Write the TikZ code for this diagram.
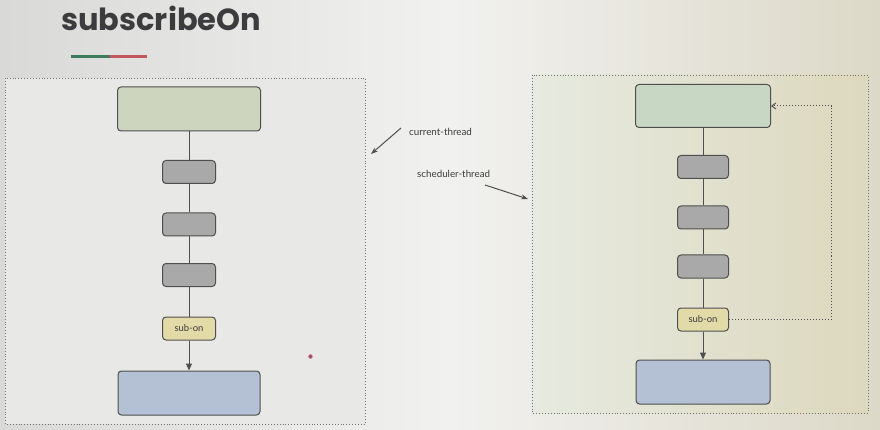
\documentclass[tikz,border=0pt]{standalone}
\usepackage{fontspec}
\setmainfont{Lato}
\newfontfamily\titlefont{Poppins}
\usetikzlibrary{arrows.meta}
\definecolor{bgL}{HTML}{D9D9D7}
\definecolor{bgM}{HTML}{F1F1F0}
\definecolor{bgR}{HTML}{DCD9C8}
\definecolor{edge}{HTML}{4F4F4F}
\definecolor{greenbox}{HTML}{CDD5BF}
\definecolor{greenboxR}{HTML}{C7D7C3}
\definecolor{graybox}{HTML}{A9A9A9}
\definecolor{yellowbox}{HTML}{E2DBA8}
\definecolor{bluebox}{HTML}{B4C0D4}
\definecolor{titlecol}{HTML}{3C3C3E}
\definecolor{barG}{HTML}{3E7A5C}
\definecolor{barR}{HTML}{C2575E}
\definecolor{panelL}{HTML}{E6EAE0}
\definecolor{panelR}{HTML}{DDD8BE}
\definecolor{dotcol}{HTML}{B0506E}
\tikzset{
  box/.style={draw=edge, line width=1pt, rounded corners=3.5pt, inner sep=0pt},
  bigbox/.style={box, minimum width=#1, minimum height=44pt},
  smallbox/.style={box, fill=graybox, minimum width=53pt, minimum height=23pt},
  subbox/.style={box, fill=yellowbox, minimum width=53pt, minimum height=23pt, font=\fontsize{9.5}{11}\selectfont, text=titlecol},
  link/.style={draw=edge, line width=1pt},
  frame/.style={draw=black!55, dotted, line width=0.9pt},
  lbl/.style={font=\fontsize{9.8}{11}\selectfont, text=titlecol, inner sep=0pt},
  pointer/.style={draw=edge, line width=1pt, -{Stealth[length=7pt,width=5pt]}}
}
\begin{document}
\begin{tikzpicture}[x=1pt,y=-1pt]
\useasboundingbox (0,0) rectangle (880,430);
% background
\shade[left color=bgL, right color=bgM] (0,0) rectangle (450,430);
\shade[left color=bgM, right color=bgR] (450,0) rectangle (880,430);
% title
\node[anchor=base west, inner sep=0pt, text=titlecol, font=\titlefont\bfseries\fontsize{30.5}{34}\selectfont] (title) at (61,31) {subscribeOn};
\fill[barG] (71,55.5) rectangle (110,58.5);
\fill[barR] (110,55.5) rectangle (147,58.5);
% left panel
\fill[bgL!60!white] (5,78) rectangle (365,424);
\draw[frame] (5,78) rectangle (365,424);
\node[bigbox=143pt, fill=greenbox] (L0) at (189,109) {};
\node[smallbox] (L1) at (189,172) {};
\node[smallbox] (L2) at (189,224.5) {};
\node[smallbox] (L3) at (189,275) {};
\node[subbox] (Ls) at (189,328.5) {sub-on};
\node[bigbox=142pt, fill=bluebox] (Le) at (189,393) {};
\draw[link] (L0) -- (L1);
\draw[link] (L1) -- (L2);
\draw[link] (L2) -- (L3);
\draw[link] (L3) -- (Ls);
\draw[link, -{Triangle[length=7pt,width=6pt]}] (Ls) -- (Le);
\fill[dotcol] (310.5,356.5) circle (2.2pt);
% middle labels
\node[lbl, anchor=west] (cur) at (409,132) {current-thread};
\node[lbl, anchor=west] (sch) at (417,173.5) {scheduler-thread};
\coordinate (curS) at (401,128);
\coordinate (curE) at (371,154);
\coordinate (schS) at (485,185);
\coordinate (schE) at (528,199);
\draw[pointer] (curS) -- (curE);
\draw[pointer] (schS) -- (schE);
% right panel
\shade[left color=panelL, right color=panelR] (532,75) rectangle (868,413);
\draw[frame] (532,75) rectangle (868,413);
\node[bigbox=135pt, fill=greenboxR, minimum height=43pt] (R0) at (703,106) {};
\node[smallbox, minimum width=51pt] (R1) at (703,167) {};
\node[smallbox, minimum width=51pt] (R2) at (703,217.5) {};
\node[smallbox, minimum width=51pt] (R3) at (703,266.5) {};
\node[subbox, minimum width=51pt] (Rs) at (703,319.5) {sub-on};
\node[bigbox=134pt, fill=bluebox] (Re) at (703,382) {};
\draw[link] (R0) -- (R1);
\draw[link] (R1) -- (R2);
\draw[link] (R2) -- (R3);
\draw[link] (R3) -- (Rs);
\draw[link, -{Triangle[length=7pt,width=6pt]}] (Rs) -- (Re);
\coordinate (loopX) at (831,0);
\draw[draw=edge, dotted, line width=1pt, -{Straight Barb[length=4pt,width=6pt]}]
  (Rs.east) -- (Rs.east -| loopX) -- (loopX |- R0.east) -- (R0.east);
\end{tikzpicture}
\end{document}
